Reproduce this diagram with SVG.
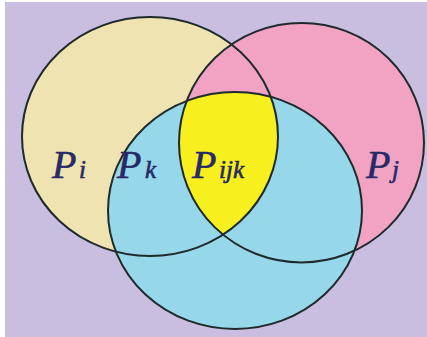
<svg xmlns="http://www.w3.org/2000/svg" width="427" height="337" viewBox="0 0 427 337">
  <style>
    .edge { fill: none; stroke: #1e2a2c; stroke-width: 2; }
    .lbl { font-family: "Liberation Serif", "Times New Roman", serif; font-style: italic; fill: #272a66; stroke: #272a66; stroke-width: 0.6; }
    .big { font-size: 40px; }
    .sub { font-size: 25px; }
  </style>
  <defs>
    <clipPath id="clipBeige"><ellipse cx="150" cy="136.5" rx="128" ry="119.5"/></clipPath>
    <clipPath id="clipBlue"><ellipse cx="235" cy="210.5" rx="127" ry="118.5"/></clipPath>
  </defs>
  <rect x="0" y="0" width="427" height="337" fill="#ffffff"/>
  <rect x="5" y="2" width="422" height="335" fill="#c9bedf"/>

  <g id="set-i">
    <ellipse cx="150" cy="136.5" rx="128" ry="119.5" fill="#efe3b1"/>
  </g>
  <g id="set-j">
    <ellipse cx="301.5" cy="142.7" rx="122.5" ry="119.7" fill="#f2a3c4"/>
  </g>
  <g id="set-k">
    <ellipse cx="235" cy="210.5" rx="127" ry="118.5" fill="#96d7e9"/>
  </g>
  <g id="set-ijk">
    <g clip-path="url(#clipBeige)">
      <g clip-path="url(#clipBlue)">
        <ellipse cx="301.5" cy="142.7" rx="122.5" ry="119.7" fill="#f8ef1e"/>
      </g>
    </g>
  </g>
  <g id="outlines">
    <ellipse class="edge" cx="150" cy="136.5" rx="128" ry="119.5"/>
    <ellipse class="edge" cx="301.5" cy="142.7" rx="122.5" ry="119.7"/>
    <ellipse class="edge" cx="235" cy="210.5" rx="127" ry="118.5"/>
  </g>

  <g id="labels">
    <text class="lbl big" x="52" y="178">P</text>
    <text class="lbl sub" x="79" y="178">i</text>
    <text class="lbl big" x="117" y="178">P</text>
    <text class="lbl sub" x="145" y="178">k</text>
    <text class="lbl big" x="192" y="178">P</text>
    <text class="lbl sub" x="219" y="178">ijk</text>
    <text class="lbl big" x="366" y="178">P</text>
    <text class="lbl sub" x="392" y="178">j</text>
  </g>
</svg>
